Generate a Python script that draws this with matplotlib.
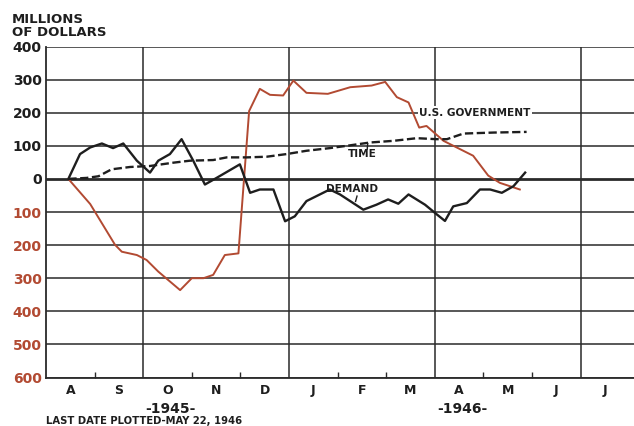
import matplotlib
matplotlib.use("Agg")
import matplotlib.pyplot as plt

# x positions: months since 1 Aug 1945
gov_x = [0.46, 0.91, 1.42, 1.56, 1.87, 2.07, 2.31, 2.76, 3.00, 3.24, 3.44, 3.68, 3.96,
         4.18, 4.40, 4.61, 4.88, 5.09, 5.36, 5.80, 6.26, 6.70, 6.98, 7.22, 7.46, 7.68,
         7.83, 8.18, 8.79, 9.10, 9.34, 9.75]
gov_y = [0, -76, -199, -220, -230, -245, -280, -336, -300, -300, -290, -230, -225,
         205, 272, 254, 252, 297, 260, 257, 277, 282, 293, 247, 231, 155,
         160, 115, 70, 10, -12, -32]

dem_x = [0.46, 0.70, 0.91, 1.15, 1.38, 1.59, 1.87, 2.14, 2.31, 2.55, 2.79, 3.03, 3.27,
         3.51, 3.99, 4.20, 4.40, 4.68, 4.92, 5.12, 5.36, 5.84, 6.05, 6.53, 6.80, 7.04,
         7.25, 7.46, 7.80, 8.04, 8.21, 8.38, 8.66, 8.93, 9.14, 9.38, 9.62, 9.86]
dem_y = [0, 75, 95, 107, 93, 107, 55, 19, 55, 75, 120, 55, -17,
         3, 44, -42, -32, -32, -128, -113, -67, -32, -47, -93, -78, -62,
         -75, -47, -78, -107, -127, -83, -73, -32, -32, -42, -22, 19]

time_x = [0.46, 0.84, 1.08, 1.35, 1.73, 2.14, 2.62, 2.96, 3.44, 3.72, 4.13, 4.54, 4.95,
          5.36, 5.84, 6.19, 6.67, 7.15, 7.63, 8.04, 8.25, 8.59, 9.21, 9.89]
time_y = [0, 3, 8, 29, 36, 39, 49, 55, 57, 65, 65, 67, 75,
          85, 93, 100, 110, 115, 123, 120, 120, 137, 140, 142]

month_labels = ["A", "S", "O", "N", "D", "J", "F", "M", "A", "M", "J", "J"]
year_labels = ["-1945-", "-1946-"]
ytick_vals = [400, 300, 200, 100, 0, -100, -200, -300, -400, -500, -600]

RED = "#b24a32"
INK = "#1e1e1e"

fig = plt.figure(figsize=(6.34, 4.26), dpi=100)
ax = fig.add_axes([46/634, (426-377.5)/426, (634-46)/634, (377.5-46.5)/426])
ax.set_xlim(0, 12.1)
ax.set_ylim(-600, 400)

# grid
for v in ytick_vals:
    ax.axhline(v, color="#2a2a2a", lw=2.0 if v == 0 else 1.1, zorder=1)
for m in [2, 5, 8, 11]:
    ax.axvline(m, color="#2a2a2a", lw=1.1, zorder=1)

for s in ["top", "right"]:
    ax.spines[s].set_visible(False)
for s in ["left", "bottom"]:
    ax.spines[s].set_color("#2a2a2a")
    ax.spines[s].set_linewidth(1.3)

# lines
ax.plot(gov_x, gov_y, color=RED, lw=1.4, zorder=3)
ax.plot(dem_x, dem_y, color=INK, lw=1.7, zorder=4)
ax.plot(time_x, time_y, color=INK, lw=1.7, ls=(0, (3.5, 1.5)), zorder=4)

# ticks
ax.set_yticks(ytick_vals)
ax.set_yticklabels([str(abs(v)) for v in ytick_vals], fontsize=10, fontweight="bold")
for lab, v in zip(ax.get_yticklabels(), ytick_vals):
    lab.set_color(RED if v < 0 else INK)
ax.tick_params(axis="y", length=0, pad=3)

ax.set_xticks([i + 0.5 for i in range(12)])
ax.set_xticklabels(month_labels, fontsize=9, fontweight="bold", color=INK)
ax.tick_params(axis="x", length=0, pad=5)
ax.set_xticks([1, 3, 4, 6, 7, 9, 10], minor=True)
ax.tick_params(axis="x", which="minor", direction="in", length=4, width=1, color="#2a2a2a")

# series labels
fb = dict(fontsize=7.6, fontweight="bold", color=INK, zorder=5)
ax.text(8.82, 200, "U.S. GOVERNMENT", ha="center", va="center",
        bbox=dict(facecolor="white", edgecolor="none", pad=1.0), **fb)
ax.text(6.51, 75, "TIME", ha="center", va="center", **fb)
ax.plot([6.61, 6.62], [90, 106], color=INK, lw=1, zorder=5)
ax.text(6.29, -30, "DEMAND", ha="center", va="center", **fb)
ax.plot([6.4, 6.37], [-52, -68], color=INK, lw=1, zorder=5)

# headers / footnotes
fig.text(12/634, 1 - 13/426, "MILLIONS\nOF DOLLARS", ha="left", va="top",
         fontsize=9.5, fontweight="bold", color=INK, linespacing=0.95)
fig.text(170/634, 1 - 409/426, year_labels[0], ha="center", va="center",
         fontsize=10, fontweight="bold", color=INK)
fig.text(462/634, 1 - 409/426, year_labels[1], ha="center", va="center",
         fontsize=10, fontweight="bold", color=INK)
fig.text(46/634, 1 - 421/426, "LAST DATE PLOTTED-MAY 22, 1946", ha="left", va="center",
         fontsize=7.2, fontweight="bold", color=INK)

fig.savefig("out.png", dpi=100, facecolor="white")
